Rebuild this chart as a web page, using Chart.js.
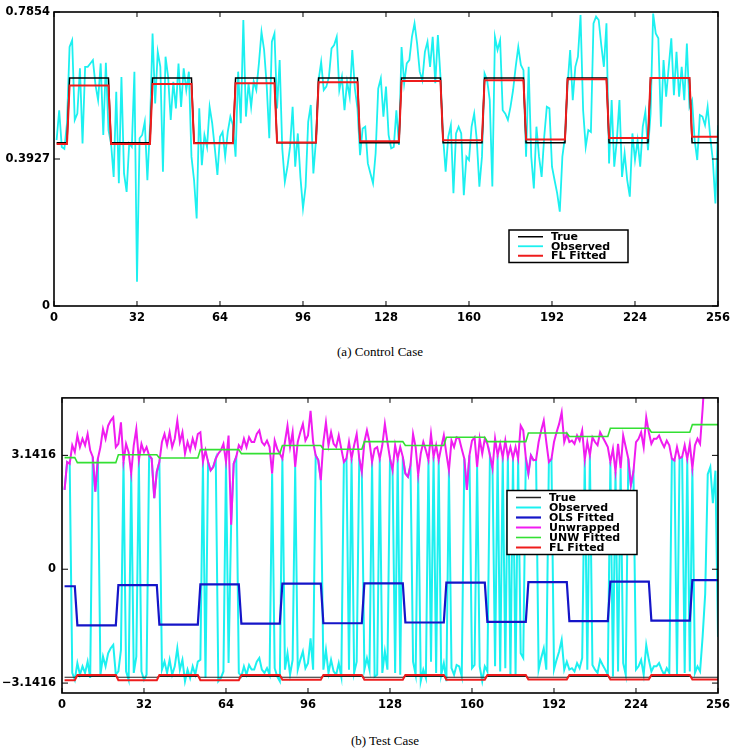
<!DOCTYPE html>
<html>
<head>
<meta charset="utf-8">
<script src="https://cdn.jsdelivr.net/npm/chart.js@4/dist/chart.umd.min.js"></script>
<style>
  body { margin: 0; background: #fff; }
  #page { position: relative; width: 735px; height: 754px; background: #fff; }
  canvas { position: absolute; left: 0; }
  .caption { position: absolute; font-family: "Liberation Serif", serif; font-size: 13px; color: #000; transform: translate(-50%, -50%); white-space: nowrap; }
</style>
</head>
<body>
<div id="page">
  <canvas id="control-chart" width="735" height="335" style="top:0"></canvas>
  <canvas id="test-chart" width="735" height="335" style="top:385px"></canvas>
  <div class="caption" style="left:380px; top:352px">(a) Control Case</div>
  <div class="caption" style="left:385px; top:741px">(b) Test Case</div>
</div>
<script>
// sample index 1..256, piecewise segments start at these samples
const N = 256;
const segStart = [1, 6, 22, 38, 54, 70, 86, 102, 118, 134, 150, 166, 182, 198, 214, 230, 246];
const xTicks = [0, 32, 64, 96, 128, 160, 192, 224, 256];

// (a) control case
const controlYTicks = [0, 0.3927, 0.7854];
const controlYLabels = ['0', '0.3927', '0.7854'];
const controlTrue = [0.436, 0.609, 0.436, 0.609, 0.436, 0.609, 0.436, 0.609, 0.436, 0.609, 0.436, 0.609, 0.436, 0.609, 0.436, 0.609, 0.436];
const controlFL = [0.433, 0.589, 0.433, 0.593, 0.435, 0.595, 0.437, 0.598, 0.440, 0.601, 0.443, 0.603, 0.445, 0.606, 0.449, 0.609, 0.452];
const controlObserved = [
  0.443, 0.523, 0.425, 0.420, 0.488, 0.692, 0.710, 0.497, 0.514, 0.635,
  0.434, 0.639, 0.639, 0.648, 0.657, 0.590, 0.550, 0.648, 0.457, 0.650,
  0.470, 0.434, 0.345, 0.572, 0.328, 0.612, 0.354, 0.305, 0.434, 0.425,
  0.626, 0.065, 0.448, 0.457, 0.492, 0.336, 0.479, 0.728, 0.541, 0.679,
  0.639, 0.359, 0.666, 0.612, 0.497, 0.599, 0.528, 0.648, 0.532, 0.635,
  0.577, 0.626, 0.399, 0.336, 0.234, 0.528, 0.376, 0.457, 0.425, 0.532,
  0.488, 0.421, 0.350, 0.452, 0.465, 0.399, 0.465, 0.506, 0.483, 0.399,
  0.626, 0.488, 0.764, 0.506, 0.595, 0.532, 0.600, 0.577, 0.648, 0.732,
  0.684, 0.590, 0.448, 0.706, 0.728, 0.528, 0.657, 0.421, 0.332, 0.372,
  0.425, 0.532, 0.372, 0.461, 0.345, 0.261, 0.319, 0.492, 0.537, 0.354,
  0.443, 0.603, 0.652, 0.577, 0.586, 0.612, 0.688, 0.697, 0.719, 0.577,
  0.612, 0.523, 0.599, 0.559, 0.684, 0.581, 0.528, 0.403, 0.474, 0.479,
  0.381, 0.354, 0.328, 0.408, 0.581, 0.608, 0.506, 0.586, 0.457, 0.421,
  0.425, 0.523, 0.430, 0.692, 0.595, 0.648, 0.657, 0.719, 0.755, 0.701,
  0.626, 0.603, 0.679, 0.706, 0.639, 0.719, 0.595, 0.724, 0.612, 0.452,
  0.359, 0.452, 0.483, 0.301, 0.461, 0.479, 0.461, 0.296, 0.399, 0.390,
  0.479, 0.514, 0.443, 0.319, 0.399, 0.621, 0.603, 0.550, 0.319, 0.719,
  0.684, 0.710, 0.523, 0.514, 0.497, 0.532, 0.577, 0.639, 0.692, 0.644,
  0.630, 0.399, 0.639, 0.399, 0.314, 0.479, 0.399, 0.345, 0.452, 0.532,
  0.528, 0.372, 0.336, 0.301, 0.252, 0.399, 0.452, 0.590, 0.684, 0.550,
  0.639, 0.666, 0.777, 0.523, 0.425, 0.470, 0.465, 0.755, 0.773, 0.764,
  0.697, 0.639, 0.755, 0.381, 0.550, 0.372, 0.443, 0.550, 0.345, 0.408,
  0.336, 0.292, 0.461, 0.390, 0.443, 0.372, 0.479, 0.519, 0.416, 0.514,
  0.781, 0.728, 0.715, 0.479, 0.657, 0.559, 0.639, 0.715, 0.563, 0.679,
  0.559, 0.639, 0.550, 0.701, 0.532, 0.550, 0.443, 0.390, 0.510, 0.506,
  0.483, 0.532, 0.452, 0.390, 0.274, 0.483
];

// (b) test case
const testYTicks = [-3.1416, 0, 3.1416];
const testYLabels = ['\u22123.1416', '0', '3.1416'];
const testTrue = [-2.98, -2.96, -2.98, -2.96, -2.98, -2.96, -2.98, -2.96, -2.98, -2.96, -2.98, -2.96, -2.98, -2.96, -2.98, -2.96, -2.98];
const testFL = [-3.06, -2.92, -3.06, -2.92, -3.06, -2.92, -3.05, -2.92, -3.05, -2.92, -3.05, -2.92, -3.04, -2.92, -3.04, -2.92, -3.04];
const testOLS = [-0.47, -1.55, -0.44, -1.53, -0.42, -1.50, -0.40, -1.49, -0.39, -1.47, -0.37, -1.45, -0.355, -1.43, -0.34, -1.42, -0.30];
const testUNW = [3.08, 2.94, 3.16, 3.07, 3.30, 3.19, 3.415, 3.31, 3.52, 3.415, 3.64, 3.52, 3.76, 3.66, 3.89, 3.78, 3.99];
const testUnwrapped = [
  2.19, 2.96, 2.91, 3.42, 3.23, 3.69, 3.37, 3.60, 3.42, 3.73,
  3.28, 3.10, 2.14, 3.05, 3.37, 3.87, 3.60, 3.96, 4.10, 4.19,
  3.37, 3.46, 4.05, 2.96, 3.46, 3.23, 2.64, 3.42, 3.87, 3.01,
  3.46, 3.23, 3.37, 3.14, 3.05, 1.96, 2.69, 2.96, 3.51, 3.73,
  3.42, 3.78, 3.37, 3.60, 4.10, 3.51, 3.78, 3.19, 3.51, 3.28,
  3.60, 3.37, 3.73, 3.78, 2.96, 3.28, 2.96, 2.73, 2.82, 3.05,
  3.19, 3.28, 3.46, 2.96, 3.69, 1.23, 2.91, 3.10, 3.42, 3.32,
  3.60, 3.37, 3.64, 3.51, 3.51, 3.73, 3.83, 3.51, 3.42, 3.55,
  3.37, 2.64, 3.55, 3.32, 3.19, 3.05, 3.51, 3.96, 3.37, 3.78,
  2.82, 3.51, 3.78, 4.01, 3.55, 3.69, 4.37, 3.51, 3.14, 3.01,
  2.46, 3.51, 4.05, 3.42, 3.78, 3.46, 3.37, 3.69, 3.32, 2.96,
  3.05, 3.51, 3.05, 3.42, 3.73, 3.05, 2.69, 3.51, 3.83, 3.51,
  2.96, 3.32, 3.37, 3.05, 3.42, 4.01, 3.51, 3.05, 2.73, 3.42,
  3.05, 3.37, 3.10, 2.64, 2.55, 2.87, 3.73, 3.37, 2.60, 3.19,
  3.51, 3.28, 3.01, 3.73, 3.10, 3.42, 3.01, 3.37, 3.69, 3.19,
  2.73, 3.55, 3.37, 3.64, 3.60, 3.32, 3.05, 2.19, 3.14, 3.55,
  3.64, 2.82, 3.60, 3.19, 3.60, 3.46, 3.14, 2.78, 3.60, 3.14,
  3.46, 3.08, 3.55, 3.10, 3.37, 3.06, 3.37, 3.05, 3.96, 3.83,
  3.08, 2.64, 3.14, 3.01, 3.02, 3.51, 3.83, 4.10, 3.51, 2.96,
  3.04, 3.51, 3.78, 4.01, 4.33, 3.51, 3.73, 3.51, 3.55, 3.46,
  3.69, 3.55, 3.83, 3.02, 3.51, 3.14, 3.64, 3.51, 3.42, 3.78,
  3.64, 3.51, 3.37, 2.96, 3.32, 2.69, 3.46, 2.78, 3.69, 3.37,
  3.05, 2.32, 2.69, 3.51, 3.60, 3.78, 3.37, 4.19, 3.78, 3.46,
  3.60, 3.60, 3.69, 3.51, 3.37, 3.55, 3.42, 3.05, 3.00, 3.37,
  3.06, 3.10, 3.42, 3.04, 3.46, 2.78, 3.42, 3.60, 3.46, 4.42,
  5.60, 8.90, 9.10, 8.10, 9.00, 10.70
];
const testObserved = [
  2.19, 2.96, 2.91, -2.86, -3.05, -2.59, -2.91, -2.68, -2.86, -2.55,
  -3.00, 3.10, 2.14, 3.05, -2.91, -2.41, -2.68, -2.32, -2.18, -2.09,
  -2.91, -2.82, -2.23, 2.96, -2.82, -3.05, 2.64, -2.86, -2.41, 3.01,
  -2.82, -3.05, -2.91, 3.14, 3.05, 1.96, 2.69, 2.96, -2.77, -2.55,
  -2.86, -2.50, -2.91, -2.68, -2.18, -2.77, -2.50, -3.09, -2.77, -3.00,
  -2.68, -2.91, -2.55, -2.50, 2.96, -3.00, 2.96, 2.73, 2.82, 3.05,
  -3.09, -3.00, -2.82, 2.96, -2.59, 1.23, 2.91, 3.10, -2.86, -2.96,
  -2.68, -2.91, -2.64, -2.77, -2.77, -2.55, -2.45, -2.77, -2.86, -2.73,
  -2.91, 2.64, -2.73, -2.96, -3.09, 3.05, -2.77, -2.32, -2.91, -2.50,
  2.82, -2.77, -2.50, -2.27, -2.73, -2.59, -1.91, -2.77, 3.14, 3.01,
  2.46, -2.77, -2.23, -2.86, -2.50, -2.82, -2.91, -2.59, -2.96, 2.96,
  3.05, -2.77, 3.05, -2.86, -2.55, 3.05, 2.69, -2.77, -2.45, -2.77,
  2.96, -2.96, -2.91, 3.05, -2.86, -2.27, -2.77, 3.05, 2.73, -2.86,
  3.05, -2.91, 3.10, 2.64, 2.55, 2.87, -2.55, -2.91, 2.60, -3.09,
  -2.77, -3.00, 3.01, -2.55, 3.10, -2.86, 3.01, -2.91, -2.59, -3.09,
  2.73, -2.73, -2.91, -2.64, -2.68, -2.96, 3.05, 2.19, 3.14, -2.73,
  -2.64, 2.82, -2.68, -3.09, -2.68, -2.82, 3.14, 2.78, -2.68, 3.14,
  -2.82, 3.08, -2.73, 3.10, -2.91, 3.06, -2.91, 3.05, -2.32, -2.45,
  3.08, 2.64, 3.14, 3.01, 3.02, -2.77, -2.45, -2.18, -2.77, 2.96,
  3.04, -2.77, -2.50, -2.27, -1.95, -2.77, -2.55, -2.77, -2.73, -2.82,
  -2.59, -2.73, -2.45, 3.02, -2.77, 3.14, -2.64, -2.77, -2.86, -2.50,
  -2.64, -2.77, -2.91, 2.96, -2.96, 2.69, -2.82, 2.78, -2.59, -2.91,
  3.05, 2.32, 2.69, -2.77, -2.68, -2.50, -2.91, -2.09, -2.50, -2.82,
  -2.68, -2.68, -2.59, -2.77, -2.91, -2.73, -2.86, 3.05, 3.00, -2.91,
  3.06, 3.10, -2.86, 3.04, -2.82, 2.78, -2.86, -2.68, -2.82, -1.86,
  -0.68, 2.62, 2.82, 1.82, 2.72, -1.87
];

Chart.defaults.font.family = '"DejaVu Sans", sans-serif';
Chart.defaults.font.size = 11.5;
Chart.defaults.font.weight = 'bold';
Chart.defaults.color = '#000';

// expand per-segment levels to one value per sample
function expand(levels) {
    const out = [];
    for (let s = 0; s < segStart.length; s++) {
        const end = s + 1 < segStart.length ? segStart[s + 1] : N + 1;
        for (let i = segStart[s]; i < end; i++) out.push(levels[s]);
    }
    return out;
}

function points(values) {
    return values.map((v, i) => ({ x: i + 1, y: v }));
}

function line(label, values, color, width, order) {
    return {
        label: label,
        data: points(values),
        borderColor: color,
        backgroundColor: color,
        borderWidth: width,
        pointRadius: 0,
        tension: 0,
        fill: false,
        order: order
    };
}

// box, inward ticks and the legend
const framePlugin = {
    id: 'frame',
    afterDatasetsDraw(chart, args, opts) {
        const ctx = chart.ctx;
        const a = chart.chartArea;
        const xs = chart.scales.x;
        const ys = chart.scales.y;
        ctx.save();
        ctx.strokeStyle = '#000';
        ctx.lineWidth = 1;
        ctx.beginPath();
        xs.ticks.forEach(t => {
            const px = xs.getPixelForValue(t.value);
            ctx.moveTo(px, a.bottom); ctx.lineTo(px, a.bottom - 5);
            ctx.moveTo(px, a.top); ctx.lineTo(px, a.top + 5);
        });
        ys.ticks.forEach(t => {
            const py = ys.getPixelForValue(t.value);
            ctx.moveTo(a.left, py); ctx.lineTo(a.left + 6, py);
            ctx.moveTo(a.right, py); ctx.lineTo(a.right - 6, py);
        });
        ctx.stroke();
        ctx.lineWidth = 1.6;
        ctx.strokeRect(a.left, a.top, a.right - a.left, a.bottom - a.top);

        // legend
        const lg = opts.legend;
        const sets = chart.data.datasets;
        const h = sets.length * lg.rowH + 4;
        ctx.fillStyle = '#fff';
        ctx.fillRect(lg.x, lg.y, lg.w, h);
        ctx.lineWidth = 1.5;
        ctx.strokeRect(lg.x, lg.y, lg.w, h);
        ctx.font = 'bold 11px "DejaVu Sans", sans-serif';
        ctx.textBaseline = 'middle';
        sets.forEach((ds, k) => {
            const yy = lg.y + 2 + lg.rowH * (k + 0.5);
            ctx.strokeStyle = ds.borderColor;
            ctx.lineWidth = Math.max(1.5, ds.borderWidth);
            ctx.beginPath();
            ctx.moveTo(lg.x + 9, yy);
            ctx.lineTo(lg.x + 34, yy);
            ctx.stroke();
            ctx.fillStyle = '#000';
            ctx.fillText(ds.label, lg.x + 42, yy + 0.5);
        });
        ctx.restore();
    }
};

function makeChart(id, datasets, yMin, yMax, yTicks, yLabels, box) {
    return new Chart(document.getElementById(id), {
        type: 'line',
        data: { datasets: datasets },
        options: {
            responsive: false,
            animation: false,
            layout: { padding: { top: box.top, right: 17, left: 0, bottom: 0 } },
            scales: {
                x: {
                    type: 'linear',
                    min: 0,
                    max: 256,
                    grid: { display: false, drawTicks: false },
                    border: { display: false },
                    afterBuildTicks: scale => { scale.ticks = xTicks.map(v => ({ value: v })); },
                    afterFit: scale => { scale.height = box.xh; },
                    ticks: { maxRotation: 0, autoSkip: false, padding: 5, color: '#000', callback: v => String(v) }
                },
                y: {
                    type: 'linear',
                    min: yMin,
                    max: yMax,
                    grid: { display: false, drawTicks: false },
                    border: { display: false },
                    afterBuildTicks: scale => { scale.ticks = yTicks.map(v => ({ value: v })); },
                    afterFit: scale => { scale.width = box.yw; },
                    ticks: { padding: box.ypad, color: '#000', callback: (v, i) => yLabels[i] }
                }
            },
            plugins: {
                legend: { display: false },
                tooltip: { enabled: false },
                frame: { legend: box.legend }
            }
        },
        plugins: [framePlugin]
    });
}

makeChart('control-chart', [
    line('True', expand(controlTrue), '#000000', 1.5, 2),
    line('Observed', controlObserved, '#1cf0f0', 1.8, 3),
    line('FL Fitted', expand(controlFL), '#ee1c1c', 2, 1)
], 0, 0.7854, controlYTicks, controlYLabels,
   { top: 12, xh: 29, yw: 54, ypad: 4, legend: { x: 509, y: 230, w: 119, rowH: 9.5 } });

makeChart('test-chart', [
    line('True', expand(testTrue), '#222222', 1.2, 4),
    line('Observed', testObserved, '#1cf0f0', 2, 6),
    line('OLS Fitted', expand(testOLS), '#1515c8', 2.2, 2),
    line('Unwrapped', testUnwrapped, '#f01cf0', 2, 5),
    line('UNW Fitted', expand(testUNW), '#33e033', 1.6, 1),
    line('FL Fitted', expand(testFL), '#ee1c1c', 2, 3)
], -3.415, 4.727, testYTicks, testYLabels,
   { top: 10, xh: 27, yw: 62, ypad: 6, legend: { x: 507, y: 105.5, w: 130, rowH: 10 } });
</script>
</body>
</html>
